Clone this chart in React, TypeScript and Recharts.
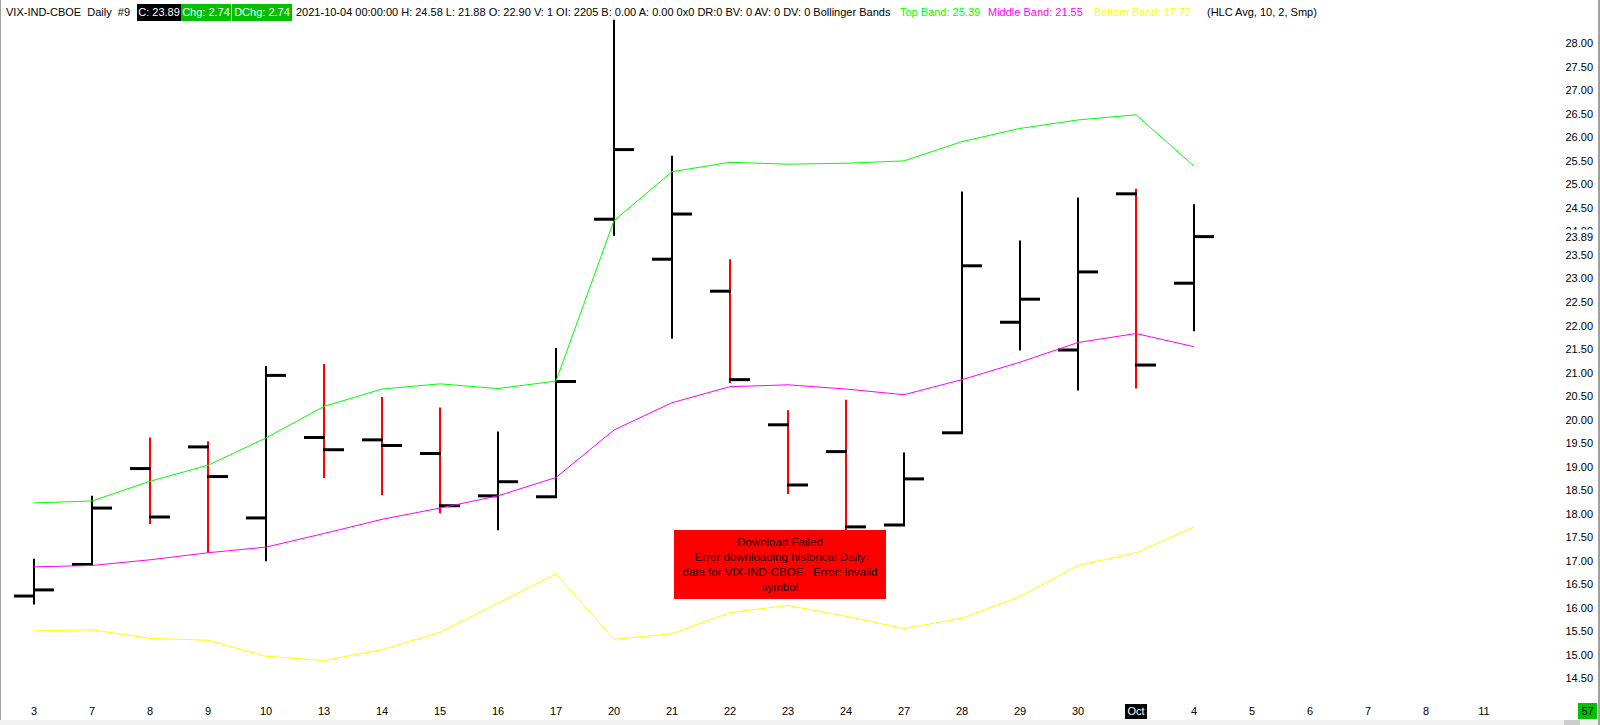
import { ComposedChart, Bar, Line, XAxis, YAxis } from "recharts";

const FONT = "'Liberation Sans', Arial, sans-serif";

const days = [
  "Sep 3", "Sep 7", "Sep 8", "Sep 9", "Sep 10", "Sep 13", "Sep 14", "Sep 15", "Sep 16", "Sep 17",
  "Sep 20", "Sep 21", "Sep 22", "Sep 23", "Sep 24", "Sep 27", "Sep 28", "Sep 29", "Sep 30", "Oct 1",
  "Oct 4", "Oct 5", "Oct 6", "Oct 7", "Oct 8", "Oct 11",
];
const dayLabels = [
  "3", "7", "8", "9", "10", "13", "14", "15", "16", "17",
  "20", "21", "22", "23", "24", "27", "28", "29", "30", "Oct",
  "4", "5", "6", "7", "8", "11",
];

const opens = [16.25, 16.92, 18.96, 19.42, 17.91, 19.62, 19.57, 19.28, 18.38, 18.36, 24.26, 23.41, 22.73, 19.89, 19.32, 17.76, 19.72, 22.07, 21.48, 24.8, 22.9];
const highs = [17.04, 18.38, 19.62, 19.54, 21.14, 21.18, 20.48, 20.26, 19.75, 21.52, 28.5, 25.61, 23.41, 20.2, 20.42, 19.3, 24.85, 23.81, 24.72, 24.91, 24.58];
const lows = [16.07, 16.91, 17.78, 17.17, 16.99, 18.76, 18.39, 18.01, 17.65, 18.35, 23.91, 21.72, 20.78, 18.42, 17.62, 17.74, 19.72, 21.47, 20.62, 20.66, 21.88];
const closes = [16.38, 18.12, 17.93, 18.79, 20.94, 19.36, 19.45, 18.17, 18.68, 20.81, 25.74, 24.37, 20.85, 18.61, 17.72, 18.74, 23.27, 22.56, 23.14, 21.16, 23.89];

const topBand = [18.23, 18.27, 18.69, 19.03, 19.61, 20.28, 20.65, 20.76, 20.66, 20.82, 24.23, 25.27, 25.47, 25.43, 25.45, 25.5, 25.91, 26.19, 26.37, 26.48, 25.39];
const midBand = [16.87, 16.9, 17.02, 17.17, 17.29, 17.58, 17.88, 18.12, 18.38, 18.77, 19.78, 20.36, 20.7, 20.74, 20.65, 20.53, 20.85, 21.22, 21.64, 21.83, 21.55];
const bottomBand = [15.51, 15.53, 15.35, 15.31, 14.97, 14.88, 15.11, 15.48, 16.1, 16.72, 15.33, 15.45, 15.9, 16.05, 15.82, 15.56, 15.78, 16.24, 16.9, 17.17, 17.72];

const priceTicks = [
  14.5, 15, 15.5, 16, 16.5, 17, 17.5, 18, 18.5, 19, 19.5, 20, 20.5, 21,
  21.5, 22, 22.5, 23, 23.5, 24, 24.5, 25, 25.5, 26, 26.5, 27, 27.5, 28,
];
const lastClose = closes[closes.length - 1];

const data = days.map((day, i) => ({
  day,
  range: i < highs.length ? [lows[i], highs[i]] : null,
  open: opens[i] ?? null,
  close: closes[i] ?? null,
  top: topBand[i] ?? null,
  mid: midBand[i] ?? null,
  bot: bottomBand[i] ?? null,
}));

function OhlcBar(props: any) {
  const { x, y, width, height, payload } = props;
  if (!payload || payload.range == null || height == null) return null;
  const [lo, hi] = payload.range;
  const cx = Math.round(x + width / 2);
  const top = Math.min(y, y + height);
  const span = Math.abs(height);
  const toPx = (v: number) => top + ((hi - v) / (hi - lo)) * span;
  const color = payload.close < payload.open ? "#ff0000" : "#000000";
  const yo = toPx(payload.open);
  const yc = toPx(payload.close);
  return (
    <g>
      <line x1={cx} x2={cx} y1={top} y2={top + span} stroke={color} strokeWidth={2} />
      <line x1={cx - 20} x2={cx + 1} y1={yo} y2={yo} stroke="#000" strokeWidth={3} />
      <line x1={cx - 1} x2={cx + 20} y1={yc} y2={yc} stroke="#000" strokeWidth={3} />
    </g>
  );
}

function DayTick(props: any) {
  const { x, y, payload } = props;
  const label = dayLabels[days.indexOf(payload.value)];
  const isMonth = label === "Oct";
  return (
    <g>
      {isMonth && <rect x={x - 11} y={y + 4} width={22} height={15} fill="#000" />}
      <text x={x} y={y + 15} textAnchor="middle" fontSize={11} fontFamily={FONT} fill={isMonth ? "#fff" : "#000"}>
        {label}
      </text>
    </g>
  );
}

function PriceTick(props: any) {
  const { x, y, payload } = props;
  const v = payload.value;
  const isLast = v === lastClose;
  return (
    <g>
      {isLast && <rect x={x + 50} y={y - 7} width={32} height={14} fill="#fff" />}
      <text x={x + 80} y={y + 4} textAnchor="end" fontSize={11} fontFamily={FONT} fill="#000">
        {v.toFixed(2)}
      </text>
    </g>
  );
}

const headerBase: React.CSSProperties = {
  position: "absolute",
  top: 4,
  height: 17,
  lineHeight: "17px",
  fontSize: 11,
  whiteSpace: "pre",
};

export default function App() {
  return (
    <div style={{ position: "absolute", left: 0, top: 0, width: 1600, height: 725, background: "#fff", fontFamily: FONT, overflow: "hidden" }}>
      <ComposedChart width={1600} height={725} data={data} margin={{ top: 0, right: 0, bottom: 0, left: 5 }}>
        <XAxis dataKey="day" interval={0} axisLine={false} tickLine={false} tickSize={0} tickMargin={0} height={25} tick={<DayTick />} />
        <YAxis
          orientation="right"
          type="number"
          domain={[14.04, 28.92]}
          allowDataOverflow
          ticks={[...priceTicks, lastClose]}
          interval={0}
          axisLine={false}
          tickLine={false}
          tickSize={0}
          tickMargin={0}
          width={87}
          tick={<PriceTick />}
        />
        <Line dataKey="top" stroke="#00ff00" strokeWidth={1} dot={false} activeDot={false} isAnimationActive={false} />
        <Line dataKey="mid" stroke="#ff00ff" strokeWidth={1} dot={false} activeDot={false} isAnimationActive={false} />
        <Line dataKey="bot" stroke="#ffff00" strokeWidth={1} dot={false} activeDot={false} isAnimationActive={false} />
        <Bar dataKey="range" shape={<OhlcBar />} isAnimationActive={false} />
      </ComposedChart>

      <div style={{ ...headerBase, left: 6, color: "#000" }}>VIX-IND-CBOE  Daily  #9</div>
      <div style={{ ...headerBase, left: 137, width: 44, background: "#000", color: "#fff", textAlign: "center" }}>C: 23.89</div>
      <div style={{ ...headerBase, left: 181, width: 50, background: "#00c000", color: "#fff", textAlign: "center" }}>Chg: 2.74</div>
      <div style={{ ...headerBase, left: 232, width: 60, background: "#00c000", color: "#fff", textAlign: "center" }}>DChg: 2.74</div>
      <div style={{ ...headerBase, left: 296, color: "#000" }}>
        2021-10-04 00:00:00 H: 24.58 L: 21.88 O: 22.90 V: 1 OI: 2205 B: 0.00 A: 0.00 0x0 DR:0 BV: 0 AV: 0 DV: 0 Bollinger Bands
      </div>
      <div style={{ ...headerBase, left: 900, color: "#00ff00" }}>Top Band: 25.39</div>
      <div style={{ ...headerBase, left: 988, color: "#ff00ff" }}>Middle Band: 21.55</div>
      <div style={{ ...headerBase, left: 1094, color: "#ffff00" }}>Bottom Band: 17.72</div>
      <div style={{ ...headerBase, left: 1207, color: "#000" }}>(HLC Avg, 10, 2, Smp)</div>

      <div
        style={{
          position: "absolute",
          left: 674,
          top: 530,
          width: 212,
          height: 69,
          background: "#ff0000",
          color: "#200000",
          fontSize: 11.5,
          lineHeight: "15px",
          textAlign: "center",
          paddingTop: 5,
          boxSizing: "border-box",
          whiteSpace: "pre",
        }}
      >
        {"Download Failed\nError downloading historical Daily\ndata for VIX-IND-CBOE.  Error: invalid\nsymbol"}
      </div>

      <div style={{ position: "absolute", left: 1578, top: 703, width: 19, height: 16, background: "#00c000", color: "#000", fontSize: 11, lineHeight: "16px", textAlign: "center" }}>57</div>
      <div style={{ position: "absolute", left: 0, top: 720, width: 1600, height: 5, background: "#f0f0f0" }} />
      <div style={{ position: "absolute", left: 1564, top: 720, width: 16, height: 5, background: "#cdcdcd" }} />
      <div style={{ position: "absolute", left: 0, top: 0, width: 1, height: 720, background: "#a0a0a0" }} />
      <div style={{ position: "absolute", left: 1598, top: 0, width: 2, height: 725, background: "#a0a0a0" }} />
    </div>
  );
}
